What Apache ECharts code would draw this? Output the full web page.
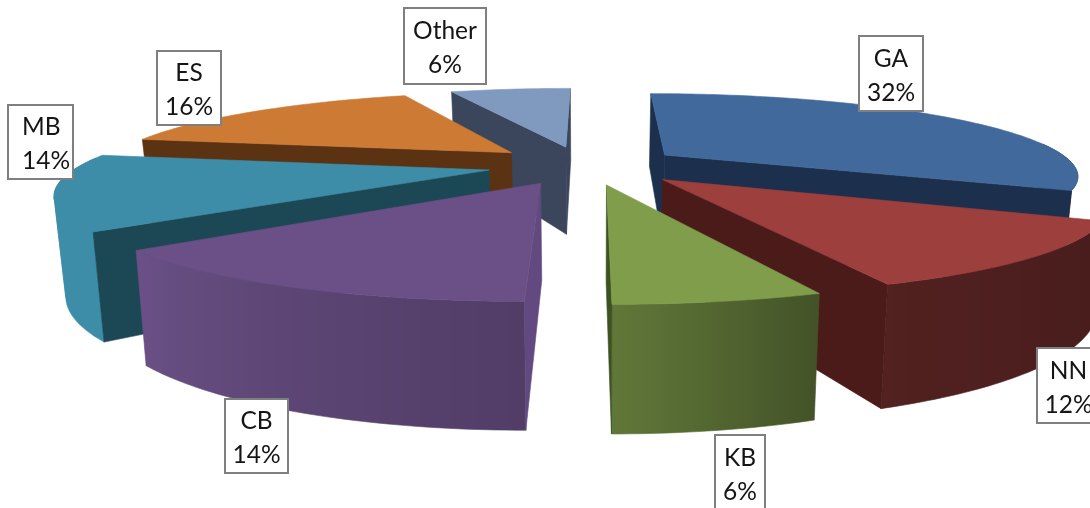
<!DOCTYPE html>
<html>
<head>
<meta charset="utf-8">
<style>html,body{margin:0;padding:0;background:#fff}#chart{width:1090px;height:508px}</style>
<script src="https://cdn.jsdelivr.net/npm/echarts@6/dist/echarts.min.js"></script>
</head>
<body>
<div id="chart"></div>
<script>
// Share of each group, in percent, clockwise from twelve o'clock
const categories = ['GA', 'NN', 'KB', 'CB', 'MB', 'ES', 'Other'];
const shares = [32, 12, 6, 14, 14, 16, 6];

// Slice colours: top face and flat cut faces
const topColors = ['#41699c', '#9c3f3d', '#7f9d4b', '#6a5086', '#3d8da8', '#cd7a34', '#8099bf'];
const cutColors = ['#1c304d', '#4b1b19', '#3d5220', '#62497f', '#1c4755', '#5c3312', '#3b465c'];

// Painter's order: far slices first on each side
const paintRank = [1, 2, 3, 3, 2, 1, 0];

// How far each slice is pulled out of the pie, in radii, plus a sideways correction
const explode = [0.24, 0.24, 0.24, 0.24, 0.25, 0.25, 0.24];
const sideShift = [-0.015, 0.005, -0.007, -0.012, 0, -0.006, -0.017];

// Label boxes [left, top, width, height, text alignment]
const labelBoxes = [
  [859, 36, 64, 75, 'center'],
  [1037, 348, 63, 75, 'center'],
  [715, 435, 50, 76, 'center'],
  [225, 399, 63, 74, 'center'],
  [8, 105, 65, 74, 'left'],
  [157, 51, 64, 74, 'center'],
  [404, 8, 82, 76, 'center']
];

// Perspective camera settings for the pie's plane
const view = { cx: 590, cy: 165, rx: 410, ry: 80, persp: 0.235, depth: 92, lean: 0.022 };

// Brightness of the rim wall as it turns away from the light on the left
const rimAngles = [0, 115, 158, 180, 205, 230, 360];
const rimShades = [0.45, 0.45, 0.52, 0.76, 0.87, 1.0, 1.0];
// The rim is only drawn where it faces the viewer
const rimVisibleFrom = 81.4;
const rimVisibleTo = 278.6;

function project(px, pz, bottom) {
  const d = 1 + view.persp * pz;
  let x = view.cx + view.rx * px / d;
  const y = view.cy - view.ry * pz / d + (bottom ? view.depth / d : 0);
  if (bottom) x = view.cx + (x - view.cx) * (1 - view.lean);
  return [x, y];
}

function shadeAt(deg) {
  for (let i = 1; i < rimAngles.length; i++) {
    if (deg <= rimAngles[i]) {
      const t = (deg - rimAngles[i - 1]) / (rimAngles[i] - rimAngles[i - 1]);
      return rimShades[i - 1] + t * (rimShades[i] - rimShades[i - 1]);
    }
  }
  return 1;
}

function scaleColor(hex, f) {
  const n = parseInt(hex.slice(1), 16);
  const c = [n >> 16, (n >> 8) & 255, n & 255].map(v => Math.round(v * f));
  return 'rgb(' + c.join(',') + ')';
}

function signedArea(pts) {
  let s = 0;
  pts.forEach((p, k) => {
    const q = pts[(k + 1) % pts.length];
    s += p[0] * q[1] - q[0] * p[1];
  });
  return s;
}

const total = shares.reduce((a, b) => a + b, 0);

function renderSlice(params, api) {
  const i = params.dataIndex;
  const before = shares.slice(0, i).reduce((a, b) => a + b, 0);
  const a0 = before / total * 360;
  const a1 = (before + api.value(1)) / total * 360;
  const mid = (a0 + a1) / 2 * Math.PI / 180;
  const ox = explode[i] * Math.sin(mid) + sideShift[i];
  const oz = explode[i] * Math.cos(mid);
  const rim = deg => {
    const r = deg * Math.PI / 180;
    return [ox + Math.sin(r), oz + Math.cos(r)];
  };
  const z = paintRank[i] * 10;
  const poly = (points, fill, z2) => ({
    type: 'polygon',
    shape: { points },
    style: { fill, stroke: fill, lineWidth: 0.6 },
    z2
  });
  const children = [];

  // Curved rim wall, with shading that runs across its width
  const from = Math.max(a0, rimVisibleFrom);
  const to = Math.min(a1, rimVisibleTo);
  if (to > from) {
    const n = Math.max(8, Math.round(to - from));
    const upper = [];
    const lower = [];
    const samples = [];
    for (let s = 0; s <= n; s++) {
      const deg = from + (to - from) * s / n;
      const [px, pz] = rim(deg);
      upper.push(project(px, pz, false));
      lower.push(project(px, pz, true));
      samples.push([upper[s][0], shadeAt(deg)]);
    }
    // Split where the rim turns back on itself, so each part keeps one winding
    let fold = 0;
    upper.forEach((p, s) => { if (p[0] < upper[fold][0]) fold = s; });
    samples.sort((p, q) => p[0] - q[0]);
    const xMin = samples[0][0];
    const xMax = samples[samples.length - 1][0];
    const fill = {
      type: 'linear',
      global: true,
      x: xMin, y: 0, x2: xMax, y2: 0,
      colorStops: samples.map(p => ({
        offset: (p[0] - xMin) / (xMax - xMin),
        color: scaleColor(topColors[i], p[1])
      }))
    };
    const pieces = fold > 0 && fold < n ? [[0, fold], [fold, n]] : [[0, n]];
    pieces.forEach(([s0, s1]) => {
      children.push({
        type: 'polygon',
        shape: { points: upper.slice(s0, s1 + 1).concat(lower.slice(s0, s1 + 1).reverse()) },
        style: { fill, stroke: fill, lineWidth: 0.6 },
        z2: z + 1
      });
    });
  }

  // Flat cut faces from the apex to the rim, only those turned toward the viewer
  [[a0, 1], [a1, -1]].forEach(([deg, facing]) => {
    const [px, pz] = rim(deg);
    const pts = [
      project(ox, oz, false), project(px, pz, false),
      project(px, pz, true), project(ox, oz, true)
    ];
    if (signedArea(pts) * facing < 0) {
      children.push(poly(pts, cutColors[i], z + 2));
    }
  });

  // Top face
  const top = [project(ox, oz, false)];
  const n = Math.max(8, Math.round(a1 - a0));
  for (let s = 0; s <= n; s++) {
    const [px, pz] = rim(a0 + (a1 - a0) * s / n);
    top.push(project(px, pz, false));
  }
  children.push(poly(top, topColors[i], z + 4));
  return { type: 'group', children };
}

function renderLabel(params, api) {
  const i = params.dataIndex;
  const [x, y, w, h, align] = labelBoxes[i];
  const left = align === 'left';
  return {
    type: 'group',
    children: [
      {
        type: 'rect',
        shape: { x, y, width: w, height: h },
        style: { fill: '#fff', stroke: '#7f7f7f', lineWidth: 2 },
        z2: 100
      },
      {
        type: 'text',
        z2: 101,
        style: {
          x: left ? x + 14 : x + w / 2,
          y: y + h / 2 + 2.5,
          text: categories[i] + '\n' + api.value(1) + '%',
          fill: '#151515',
          font: '24.5px Lato, "Open Sans", sans-serif',
          lineHeight: 34,
          align,
          verticalAlign: 'middle'
        }
      }
    ]
  };
}

const chart = echarts.init(document.getElementById('chart'), null, { renderer: 'canvas' });
const seriesData = categories.map((name, i) => [i, shares[i]]);
chart.setOption({
  animation: false,
  backgroundColor: '#ffffff',
  series: [
    { type: 'custom', coordinateSystem: 'none', renderItem: renderSlice, data: seriesData, silent: true, z: 1 },
    { type: 'custom', coordinateSystem: 'none', renderItem: renderLabel, data: seriesData, silent: true, z: 2 }
  ]
});
</script>
</body>
</html>
